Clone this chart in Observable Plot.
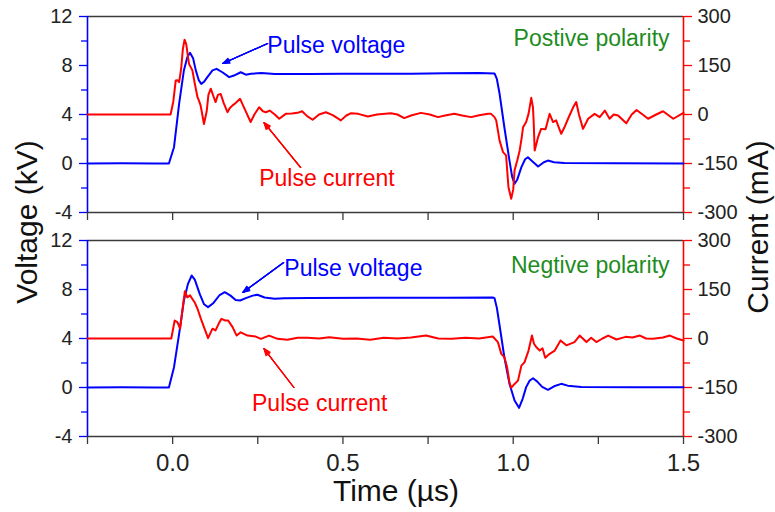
<!DOCTYPE html>
<html>
<head>
<meta charset="utf-8">
<script src="https://cdn.jsdelivr.net/npm/d3@7"></script>
<script src="https://cdn.jsdelivr.net/npm/@observablehq/plot@0.6"></script>
<style>
  body { margin: 0; background: #fff; }
  #chart { position: relative; width: 775px; height: 512px; font-family: "Liberation Sans", Arial, sans-serif; }
  #chart > svg { position: absolute; left: 0; display: block; }
</style>
</head>
<body>
<div id="chart"></div>
<script>
// ---------- DATA (time in µs, voltage in kV, current in mA) ----------
const posVoltage = [
  [-0.25,0],[-0.15,0.02],[-0.05,0],[-0.011,0],[0.004,1.33],[0.019,4.87],[0.033,7.6],[0.043,8.68],[0.051,9.04],
  [0.06,8.6],[0.068,7.6],[0.077,6.78],[0.084,6.5],[0.093,6.7],[0.102,7.05],[0.117,7.6],[0.129,7.73],[0.146,7.45],
  [0.166,7.05],[0.18,7.18],[0.2,7.45],[0.215,7.25],[0.23,7.32],[0.26,7.38],[0.3,7.3],[0.4,7.3],[0.5,7.32],[0.6,7.33],
  [0.7,7.33],[0.8,7.36],[0.9,7.38],[0.945,7.35],[0.952,6.9],[0.96,5.69],[0.974,2.96],[0.989,0.24],[0.997,-1.1],
  [1.004,-1.66],[1.012,-1.3],[1.024,-0.3],[1.035,0.35],[1.043,0.51],[1.055,0.2],[1.073,-0.25],[1.09,0.1],[1.102,0.24],
  [1.12,0.1],[1.15,0.05],[1.3,0.02],[1.5,0]
];
const posCurrent = [
  [-0.25,0],[-0.006,0],[0.002,40],[0.009,104],[0.014,105],[0.019,99],[0.025,140],[0.03,200],[0.035,229],[0.04,215],
  [0.048,155],[0.053,145],[0.058,135],[0.065,95],[0.073,53],[0.078,40],[0.082,28],[0.087,0],[0.092,-29],[0.1,10],
  [0.105,60],[0.112,79],[0.12,55],[0.126,38],[0.133,60],[0.141,63],[0.15,35],[0.161,7],[0.168,20],[0.176,28],
  [0.185,35],[0.198,48],[0.21,20],[0.229,-23],[0.24,0],[0.254,22],[0.265,10],[0.274,7],[0.285,12],[0.3,0],
  [0.313,-13],[0.332,2],[0.35,3],[0.367,5],[0.38,10],[0.395,-5],[0.411,-16],[0.43,0],[0.45,7],[0.47,-2],[0.494,-18],
  [0.51,-3],[0.524,4],[0.545,2],[0.573,-6],[0.6,0],[0.641,4],[0.66,0],[0.68,-11],[0.7,-3],[0.729,5],[0.755,0],
  [0.779,-8],[0.8,-3],[0.827,2],[0.85,-3],[0.876,-8],[0.9,-2],[0.926,2],[0.935,2],[0.945,-8],[0.95,-18],[0.96,-80],
  [0.97,-115],[0.979,-125],[0.986,-222],[0.994,-258],[1.0,-230],[1.004,-171],[1.012,-140],[1.019,-110],[1.025,-70],
  [1.029,-39],[1.038,-23],[1.045,2],[1.053,51],[1.058,22],[1.06,-20],[1.063,-110],[1.068,-90],[1.073,-69],[1.082,-44],
  [1.095,-45],[1.107,2],[1.117,-23],[1.126,-18],[1.141,-59],[1.15,-40],[1.161,-13],[1.176,22],[1.185,38],[1.193,0],
  [1.205,-44],[1.22,-13],[1.239,2],[1.254,-8],[1.269,12],[1.283,-13],[1.295,0],[1.308,-3],[1.332,-27],[1.348,0],
  [1.362,14],[1.38,0],[1.396,-13],[1.42,0],[1.44,10],[1.47,-13],[1.5,5]
];
const negVoltage = [
  [-0.25,0],[-0.15,0.02],[-0.05,0],[-0.011,0],[0.004,1.66],[0.019,4.38],[0.033,7.1],[0.045,8.46],[0.056,9.14],
  [0.065,8.8],[0.08,7.6],[0.092,6.8],[0.104,6.56],[0.12,6.9],[0.138,7.55],[0.153,7.78],[0.17,7.5],[0.185,7.15],
  [0.198,7.1],[0.215,7.3],[0.235,7.5],[0.249,7.57],[0.27,7.35],[0.3,7.25],[0.327,7.29],[0.4,7.3],[0.6,7.32],
  [0.8,7.33],[0.94,7.35],[0.945,7.3],[0.952,6.5],[0.96,5.06],[0.974,2.47],[0.989,0.3],[1.004,-1.06],[1.017,-1.66],
  [1.028,-0.9],[1.038,0.03],[1.048,0.55],[1.058,0.76],[1.07,0.5],[1.085,0.05],[1.102,-0.19],[1.12,0.1],[1.141,0.3],
  [1.16,0.15],[1.2,0.05],[1.35,0.02],[1.5,0.02]
];
const negCurrent = [
  [-0.25,0],[-0.004,0],[0.006,55],[0.014,50],[0.022,30],[0.031,106],[0.036,145],[0.043,126],[0.051,132],[0.058,121],
  [0.065,110],[0.073,91],[0.083,60],[0.092,35],[0.104,1],[0.117,30],[0.126,25],[0.135,45],[0.143,60],[0.155,55],
  [0.163,55],[0.176,35],[0.188,9],[0.2,19],[0.22,9],[0.244,6],[0.259,-1],[0.283,9],[0.308,-1],[0.337,-4],[0.367,2],
  [0.396,2],[0.43,0],[0.46,4],[0.5,-1],[0.54,0],[0.58,-4],[0.62,2],[0.66,0],[0.7,3],[0.744,9],[0.78,0],[0.82,-1],
  [0.86,2],[0.9,0],[0.94,6],[0.955,-11],[0.965,-47],[0.974,-57],[0.982,-88],[0.989,-134],[0.994,-151],[1.004,-139],
  [1.014,-129],[1.024,-83],[1.033,-73],[1.045,-37],[1.055,9],[1.061,-16],[1.068,-27],[1.078,-37],[1.086,-30],
  [1.094,-59],[1.107,-47],[1.122,-37],[1.139,-6],[1.156,-21],[1.18,-11],[1.195,9],[1.215,-11],[1.229,2],[1.244,-11],
  [1.262,0],[1.279,9],[1.303,-3],[1.33,5],[1.35,3],[1.372,9],[1.39,0],[1.41,-1],[1.44,3],[1.46,9],[1.48,0],[1.5,-6]
];

// Tick values
const xMajorTicks = [0, 0.5, 1.0, 1.5];
const xMinorTicks = [-0.25, 0.25, 0.75, 1.25];
const vMajorTicks = [-4, 0, 4, 8, 12];
const vMinorTicks = [-2, 2, 6, 10];
const cMajorTicks = [-300, -150, 0, 150, 300];
const cMinorTicks = [-225, -75, 75, 225];

// Annotations (data coordinates: µs, kV)
const posAnnotations = {
  polarity: "Postive polarity", polarityAt: [1.459, 9.63],
  voltLabelAt: [0.278, 9.06], currLabelAt: [0.254, -1.8],
  voltArrow: [{x1: 0.279, y1: 9.8, x2: 0.147, y2: 8.16}],
  currArrow: [{x1: 0.376, y1: -0.33, x2: 0.268, y2: 3.35}]
};
const negAnnotations = {
  polarity: "Negtive polarity", polarityAt: [1.459, 9.31],
  voltLabelAt: [0.328, 9.14], currLabelAt: [0.233, -1.88],
  voltArrow: [{x1: 0.326, y1: 10.2, x2: 0.206, y2: 7.76}],
  currArrow: [{x1: 0.356, y1: 0, x2: 0.268, y2: 3.18}]
};

// ---------- CHART ----------
const BLUE = "#0000ff", RED = "#ff0000", GREEN = "#1e8c1e", DARK = "#222", FRAME = "#3a3a3a";
const X_DOMAIN = [-0.25, 1.5], V_DOMAIN = [-4, 12];
const toV = mA => mA / 37.5 + 4;          // current (mA) -> voltage-axis units
const toMA = v => Math.round((v - 4) * 37.5);
const FONT = "Liberation Sans, Arial, sans-serif";

function arrowMarks(data, color) {
  return [44, 32, 20, 10].map(a => Plot.arrow(data, {
    x1: "x1", y1: "y1", x2: "x2", y2: "y2", stroke: color, strokeWidth: 1.1, headLength: 10, headAngle: a
  }));
}

function panel({voltage, current, ann, showXLabels, height, marginTop, marginBottom}) {
  return Plot.plot({
    width: 775, height, marginLeft: 87, marginRight: 92, marginTop, marginBottom,
    style: {fontFamily: FONT, background: "transparent", overflow: "visible"},
    x: {domain: X_DOMAIN},
    y: {domain: V_DOMAIN},
    marks: [
      Plot.ruleY([12], {stroke: FRAME, strokeWidth: 1.5}),
      Plot.ruleY([-4], {stroke: FRAME, strokeWidth: 1.5}),
      Plot.axisX({ticks: xMajorTicks, anchor: "bottom", tickSize: 8, tickPadding: 9, stroke: FRAME, strokeWidth: 1.3,
        fill: DARK, fontSize: 24, label: null, tickFormat: showXLabels ? (d => d.toFixed(1)) : (() => "")}),
      Plot.axisX({ticks: xMinorTicks, anchor: "bottom", tickSize: 8, stroke: FRAME, strokeWidth: 1.3,
        label: null, tickFormat: () => ""}),
      Plot.axisY({ticks: vMajorTicks, anchor: "left", tickSize: 8, tickPadding: 7, stroke: BLUE, strokeWidth: 1.3,
        fill: DARK, fontSize: 20, label: null, tickFormat: d => String(d)}),
      Plot.axisY({ticks: vMinorTicks, anchor: "left", tickSize: 6, stroke: BLUE, strokeWidth: 1.3,
        label: null, tickFormat: () => ""}),
      Plot.axisY({ticks: cMajorTicks.map(toV), anchor: "right", tickSize: 8, tickPadding: 6, stroke: RED, strokeWidth: 1.3,
        fill: DARK, fontSize: 20, label: null, tickFormat: v => String(toMA(v))}),
      Plot.axisY({ticks: cMinorTicks.map(toV), anchor: "right", tickSize: 6, stroke: RED, strokeWidth: 1.3,
        label: null, tickFormat: () => ""}),
      Plot.ruleX([-0.25], {stroke: BLUE, strokeWidth: 1.6}),
      Plot.ruleX([1.5], {stroke: RED, strokeWidth: 1.6}),
      Plot.line(voltage, {x: d => d[0], y: d => d[1], stroke: BLUE, strokeWidth: 2}),
      Plot.line(current, {x: d => d[0], y: d => toV(d[1]), stroke: RED, strokeWidth: 2}),
      Plot.text(["Pulse voltage"], {x: ann.voltLabelAt[0], y: ann.voltLabelAt[1], text: d => d, fill: BLUE,
        fontSize: 23, textAnchor: "start", lineAnchor: "bottom"}),
      Plot.text(["Pulse current"], {x: ann.currLabelAt[0], y: ann.currLabelAt[1], text: d => d, fill: RED,
        fontSize: 23, textAnchor: "start", lineAnchor: "bottom"}),
      Plot.text([ann.polarity], {x: ann.polarityAt[0], y: ann.polarityAt[1], text: d => d, fill: GREEN,
        fontSize: 23, textAnchor: "end", lineAnchor: "bottom"}),
      ...arrowMarks(ann.voltArrow, BLUE),
      ...arrowMarks(ann.currArrow, RED)
    ]
  });
}

const chartDiv = document.getElementById("chart");
const topPanel = panel({voltage: posVoltage, current: posCurrent, ann: posAnnotations, showXLabels: false,
  height: 226, marginTop: 16, marginBottom: 14});
topPanel.style.top = "0px";
const bottomPanel = panel({voltage: negVoltage, current: negCurrent, ann: negAnnotations, showXLabels: true,
  height: 286, marginTop: 14, marginBottom: 76});
bottomPanel.style.top = "226px";
chartDiv.appendChild(topPanel);
chartDiv.appendChild(bottomPanel);

// Axis titles shared by both panels
const overlay = d3.select(chartDiv).append("svg")
  .attr("width", 775).attr("height", 512)
  .style("top", "0px").style("pointer-events", "none")
  .style("font-family", FONT);
overlay.append("text").text("Voltage (kV)")
  .attr("transform", "translate(37,222) rotate(-90)")
  .attr("text-anchor", "middle").attr("font-size", 30).attr("fill", "#111");
overlay.append("text").text("Current (mA)")
  .attr("transform", "translate(768,227) rotate(-90)")
  .attr("text-anchor", "middle").attr("font-size", 30).attr("fill", "#111");
overlay.append("text").text("Time (µs)")
  .attr("x", 396).attr("y", 501)
  .attr("text-anchor", "middle").attr("font-size", 30).attr("fill", "#111");
</script>
</body>
</html>
